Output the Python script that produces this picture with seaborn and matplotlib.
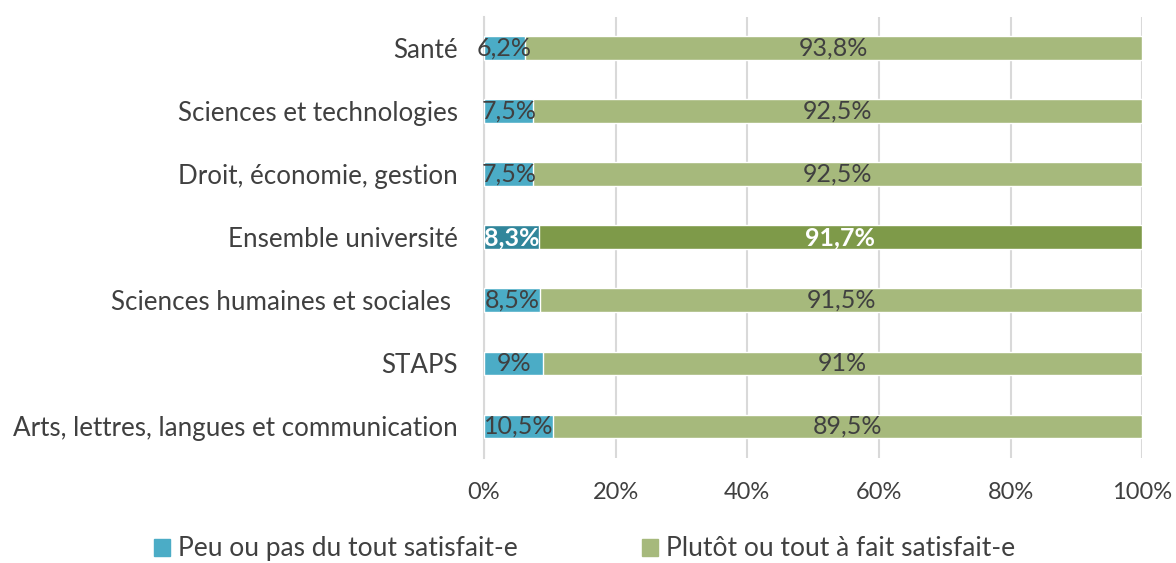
import matplotlib
matplotlib.use("Agg")
import matplotlib.pyplot as plt
import seaborn as sns
import pandas as pd
from matplotlib.patches import Patch

categories = ["Santé", "Sciences et technologies", "Droit, économie, gestion",
              "Ensemble université", "Sciences humaines et sociales ", "STAPS",
              "Arts, lettres, langues et communication"]
peu = [6.2, 7.5, 7.5, 8.3, 8.5, 9.0, 10.5]
plutot = [93.8, 92.5, 92.5, 91.7, 91.5, 91.0, 89.5]
peu_labels = ["6,2%", "7,5%", "7,5%", "8,3%", "8,5%", "9%", "10,5%"]
plutot_labels = ["93,8%", "92,5%", "92,5%", "91,7%", "91,5%", "91%", "89,5%"]
series_names = ["Peu ou pas du tout satisfait-e", "Plutôt ou tout à fait satisfait-e"]
highlight = "Ensemble université"

sns.set_theme(style="white")
plt.rcParams['font.family'] = ['Lato', 'DejaVu Sans']

BLUE, GREEN = "#4BACC6", "#A6B97C"
BLUE_H, GREEN_H = "#31869B", "#7E9A49"
TXT = "#404040"
FS_CAT, FS_LAB, FS_TICK, FS_LEG = 18.7, 18, 17, 19

df = pd.DataFrame({"cat": categories, "peu": peu, "plutot": plutot})
df["total"] = df["peu"] + df["plutot"]

fig = plt.figure(figsize=(11.76, 5.63), dpi=100)
ax = fig.add_axes([0.4116, 0.1865, 0.5596, 0.7835])

pal_g = {c: (GREEN_H if c == highlight else GREEN) for c in categories}
pal_b = {c: (BLUE_H if c == highlight else BLUE) for c in categories}
sns.barplot(data=df, y="cat", x="total", hue="cat", palette=pal_g, orient="h",
            width=0.38, legend=False, ax=ax, saturation=1, zorder=2)
sns.barplot(data=df, y="cat", x="peu", hue="cat", palette=pal_b, orient="h",
            width=0.38, legend=False, ax=ax, saturation=1, zorder=3)

for i, c in enumerate(categories):
    hl = c == highlight
    col = "white" if hl else TXT
    fw = "bold" if hl else "normal"
    ax.text(peu[i] / 2, i, peu_labels[i], ha="center", va="center", fontsize=FS_LAB,
            color=col, fontweight=fw, zorder=5)
    ax.text(peu[i] + plutot[i] / 2, i, plutot_labels[i], ha="center", va="center",
            fontsize=FS_LAB, color=col, fontweight=fw, zorder=5)

ax.set_xlim(0, 100)
ax.set_ylim(6.5, -0.5)
ax.set_xticks([0, 20, 40, 60, 80, 100])
ax.set_xticklabels(["0%", "20%", "40%", "60%", "80%", "100%"], fontsize=FS_TICK, color=TXT)
ax.set_yticks(range(len(categories)))
ax.set_yticklabels(categories, fontsize=FS_CAT, color=TXT)
ax.tick_params(axis="y", length=0, pad=19)
ax.tick_params(axis="x", length=0, pad=17)
ax.set_yticks([i - 0.5 for i in range(len(categories) + 1)], minor=True)
ax.tick_params(axis="y", which="minor", length=6, color="#d9d9d9", width=1.5)
ax.set_xlabel("")
ax.set_ylabel("")
ax.grid(axis="x", color="#d9d9d9", linewidth=1.5, zorder=0)
ax.set_axisbelow(True)
for s in ["top", "right", "bottom"]:
    ax.spines[s].set_visible(False)
ax.spines["left"].set_color("#d9d9d9")
ax.spines["left"].set_linewidth(1.5)

handles = [Patch(color=BLUE, label=series_names[0]), Patch(color=GREEN, label=series_names[1])]
leg = fig.legend(handles=handles, loc="center", bbox_to_anchor=(0.497, 0.025), ncol=2,
                 frameon=False, fontsize=FS_LEG, handlelength=0.6, handleheight=0.6,
                 handletextpad=0.3, columnspacing=4.7, labelcolor=TXT)

fig.savefig("out.png", dpi=100)
